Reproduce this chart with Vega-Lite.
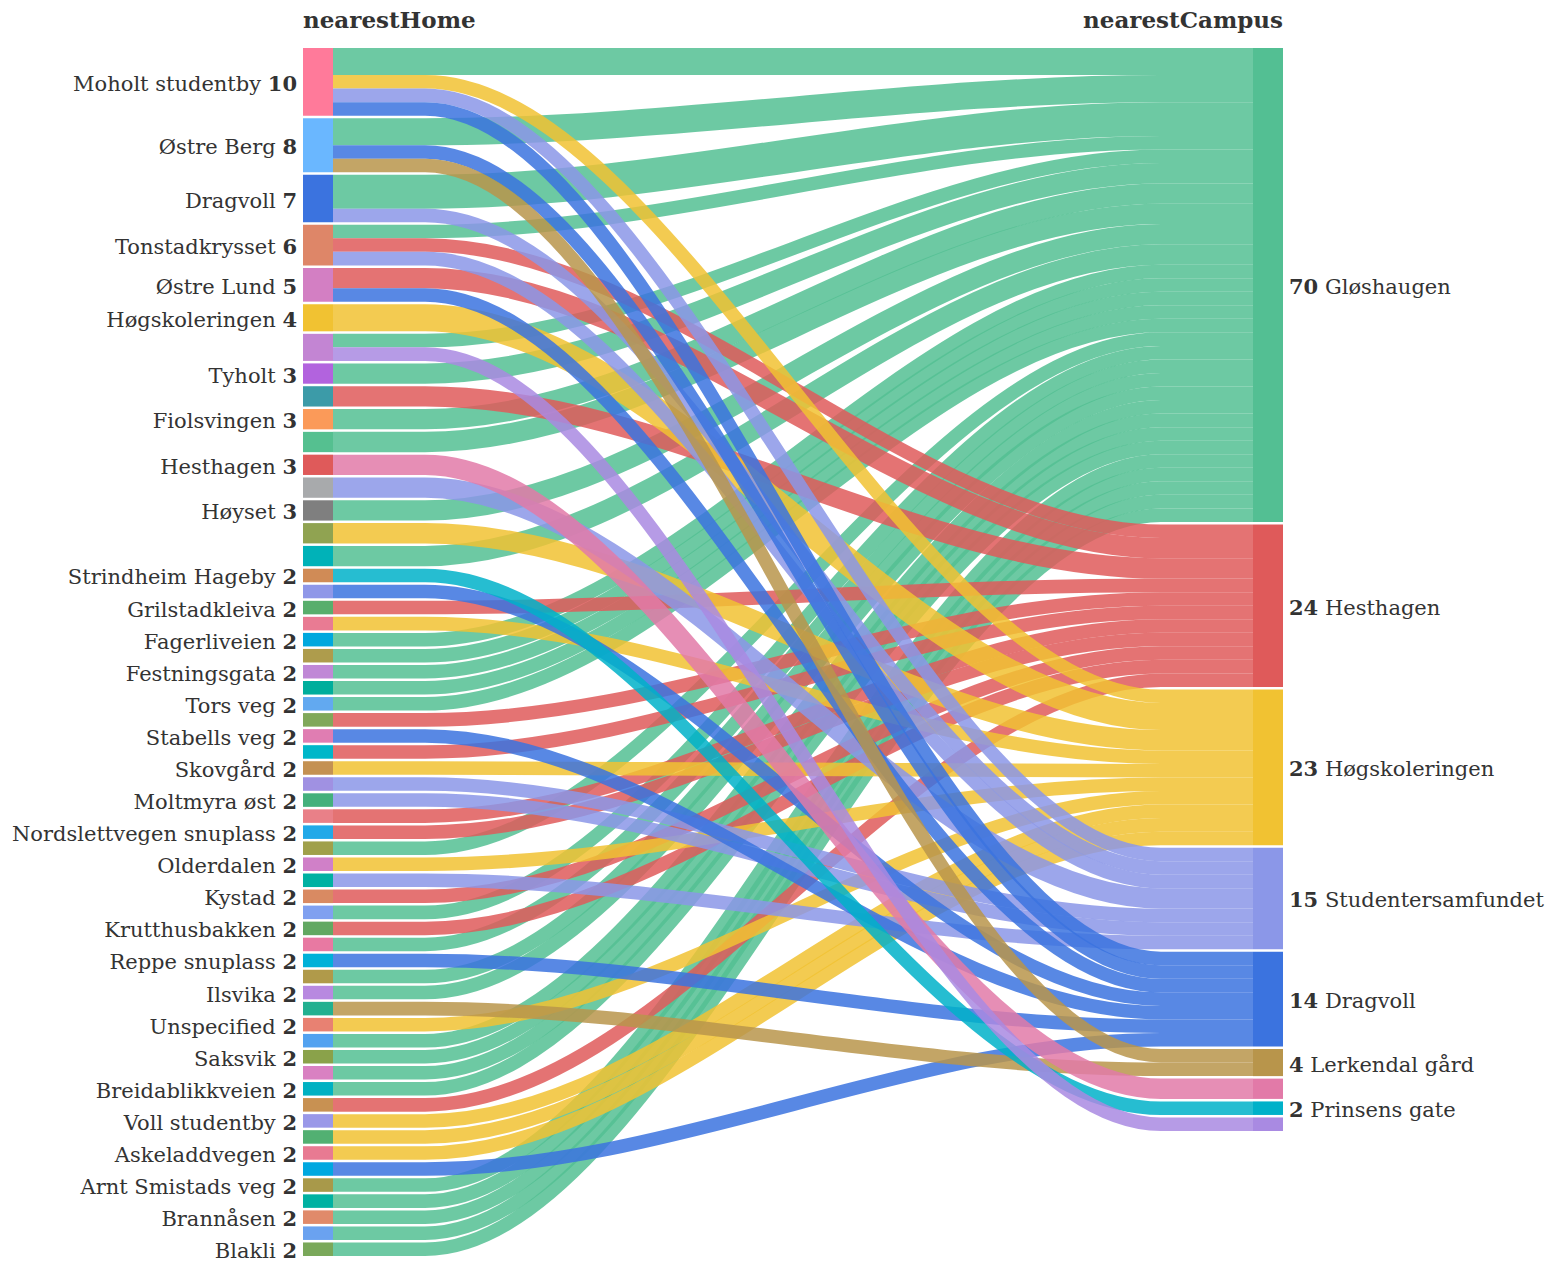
{
  "$schema": "https://vega.github.io/schema/vega-lite/v6.json",
  "width": 980,
  "height": 1208,
  "autosize": {"type": "none"},
  "padding": {"left": 303, "top": 48, "right": 274, "bottom": 15},
  "background": "white",
  "config": {"view": {"stroke": null}, "text": {"font": "DejaVu Serif", "fontSize": 21, "color": "#333333"}},
  "datasets": {
    "links": [
      {"source": "h01", "target": "c1", "value": 4},
      {"source": "h02", "target": "c1", "value": 4},
      {"source": "h03", "target": "c1", "value": 5},
      {"source": "h04", "target": "c1", "value": 2},
      {"source": "h07", "target": "c1", "value": 2},
      {"source": "h08", "target": "c1", "value": 3},
      {"source": "h10", "target": "c1", "value": 3},
      {"source": "h11", "target": "c1", "value": 3},
      {"source": "h14", "target": "c1", "value": 3},
      {"source": "h16", "target": "c1", "value": 3},
      {"source": "h21", "target": "c1", "value": 2},
      {"source": "h22", "target": "c1", "value": 2},
      {"source": "h23", "target": "c1", "value": 2},
      {"source": "h24", "target": "c1", "value": 2},
      {"source": "h25", "target": "c1", "value": 2},
      {"source": "h34", "target": "c1", "value": 2},
      {"source": "h38", "target": "c1", "value": 2},
      {"source": "h40", "target": "c1", "value": 2},
      {"source": "h42", "target": "c1", "value": 2},
      {"source": "h43", "target": "c1", "value": 2},
      {"source": "h46", "target": "c1", "value": 2},
      {"source": "h47", "target": "c1", "value": 2},
      {"source": "h48", "target": "c1", "value": 2},
      {"source": "h49", "target": "c1", "value": 2},
      {"source": "h55", "target": "c1", "value": 2},
      {"source": "h56", "target": "c1", "value": 2},
      {"source": "h57", "target": "c1", "value": 2},
      {"source": "h58", "target": "c1", "value": 2},
      {"source": "h59", "target": "c1", "value": 2},
      {"source": "h04", "target": "c2", "value": 2},
      {"source": "h05", "target": "c2", "value": 3},
      {"source": "h09", "target": "c2", "value": 3},
      {"source": "h19", "target": "c2", "value": 2},
      {"source": "h26", "target": "c2", "value": 2},
      {"source": "h28", "target": "c2", "value": 2},
      {"source": "h32", "target": "c2", "value": 2},
      {"source": "h33", "target": "c2", "value": 2},
      {"source": "h37", "target": "c2", "value": 2},
      {"source": "h39", "target": "c2", "value": 2},
      {"source": "h50", "target": "c2", "value": 2},
      {"source": "h01", "target": "c3", "value": 2},
      {"source": "h06", "target": "c3", "value": 4},
      {"source": "h15", "target": "c3", "value": 3},
      {"source": "h20", "target": "c3", "value": 2},
      {"source": "h29", "target": "c3", "value": 2},
      {"source": "h35", "target": "c3", "value": 2},
      {"source": "h45", "target": "c3", "value": 2},
      {"source": "h51", "target": "c3", "value": 2},
      {"source": "h52", "target": "c3", "value": 2},
      {"source": "h53", "target": "c3", "value": 2},
      {"source": "h01", "target": "c4", "value": 2},
      {"source": "h03", "target": "c4", "value": 2},
      {"source": "h04", "target": "c4", "value": 2},
      {"source": "h13", "target": "c4", "value": 3},
      {"source": "h30", "target": "c4", "value": 2},
      {"source": "h31", "target": "c4", "value": 2},
      {"source": "h36", "target": "c4", "value": 2},
      {"source": "h01", "target": "c5", "value": 2},
      {"source": "h02", "target": "c5", "value": 2},
      {"source": "h05", "target": "c5", "value": 2},
      {"source": "h18", "target": "c5", "value": 2},
      {"source": "h27", "target": "c5", "value": 2},
      {"source": "h41", "target": "c5", "value": 2},
      {"source": "h54", "target": "c5", "value": 2},
      {"source": "h02", "target": "c6", "value": 2},
      {"source": "h44", "target": "c6", "value": 2},
      {"source": "h12", "target": "c7", "value": 3},
      {"source": "h17", "target": "c8", "value": 2},
      {"source": "h07", "target": "c9", "value": 2}
    ],
    "names": [
      {"id": "h01", "name": "Moholt studentby"},
      {"id": "h02", "name": "Østre Berg"},
      {"id": "h03", "name": "Dragvoll"},
      {"id": "h04", "name": "Tonstadkrysset"},
      {"id": "h05", "name": "Østre Lund"},
      {"id": "h06", "name": "Høgskoleringen"},
      {"id": "h08", "name": "Tyholt"},
      {"id": "h10", "name": "Fiolsvingen"},
      {"id": "h12", "name": "Hesthagen"},
      {"id": "h14", "name": "Høyset"},
      {"id": "h17", "name": "Strindheim Hageby"},
      {"id": "h19", "name": "Grilstadkleiva"},
      {"id": "h21", "name": "Fagerliveien"},
      {"id": "h23", "name": "Festningsgata"},
      {"id": "h25", "name": "Tors veg"},
      {"id": "h27", "name": "Stabells veg"},
      {"id": "h29", "name": "Skovgård"},
      {"id": "h31", "name": "Moltmyra øst"},
      {"id": "h33", "name": "Nordslettvegen snuplass"},
      {"id": "h35", "name": "Olderdalen"},
      {"id": "h37", "name": "Kystad"},
      {"id": "h39", "name": "Krutthusbakken"},
      {"id": "h41", "name": "Reppe snuplass"},
      {"id": "h43", "name": "Ilsvika"},
      {"id": "h45", "name": "Unspecified"},
      {"id": "h47", "name": "Saksvik"},
      {"id": "h49", "name": "Breidablikkveien"},
      {"id": "h51", "name": "Voll studentby"},
      {"id": "h53", "name": "Askeladdvegen"},
      {"id": "h55", "name": "Arnt Smistads veg"},
      {"id": "h57", "name": "Brannåsen"},
      {"id": "h59", "name": "Blakli"},
      {"id": "c1", "name": "Gløshaugen"},
      {"id": "c2", "name": "Hesthagen"},
      {"id": "c3", "name": "Høgskoleringen"},
      {"id": "c4", "name": "Studentersamfundet"},
      {"id": "c5", "name": "Dragvoll"},
      {"id": "c6", "name": "Lerkendal gård"},
      {"id": "c8", "name": "Prinsens gate"}
    ]
  },
  "layer": [
    {
      "data": {"name": "links"},
      "transform": [
        {"window": [{"op": "dense_rank", "as": "sIdx"}], "sort": [{"field": "source"}]},
        {"window": [{"op": "dense_rank", "as": "tIdx"}], "sort": [{"field": "target"}]},
        {"window": [{"op": "sum", "field": "value", "as": "cumS"}], "sort": [{"field": "source"}, {"field": "target"}], "frame": [null, 0]},
        {"window": [{"op": "sum", "field": "value", "as": "cumT"}], "sort": [{"field": "target"}, {"field": "source"}], "frame": [null, 0]},
        {"calculate": "datum.cumS - datum.value + (datum.sIdx - 1) * 0.36924", "as": "sTop"},
        {"calculate": "datum.cumT - datum.value + (datum.tIdx - 1) * 0.36924", "as": "tTop"}
      ],
      "encoding": {
        "color": {
          "field": "cid",
          "type": "nominal",
          "legend": null,
          "scale": {
            "domain": ["h01","h02","h03","h04","h05","h06","h07","h08","h09","h10","h11","h12","h13","h14","h15","h16","h17","h18","h19","h20","h21","h22","h23","h24","h25","h26","h27","h28","h29","h30","h31","h32","h33","h34","h35","h36","h37","h38","h39","h40","h41","h42","h43","h44","h45","h46","h47","h48","h49","h50","h51","h52","h53","h54","h55","h56","h57","h58","h59","c1","c2","c3","c4","c5","c6","c7","c8","c9"],
            "range": ["#ff7a9a","#6ab7ff","#3b73df","#de8668","#d37fc3","#f1c232","#c385d3","#b263de","#3c9ba8","#fb9a59","#55c090","#df5a5a","#a8aaac","#7f7f7f","#90a351","#00b2b8","#d08b56","#8f97e8","#58ae6c","#e97b93","#00a8de","#ae9c4c","#c088d6","#00ae9c","#62a9f0","#80a85a","#e07db2","#00b7c9","#c49152","#a091e2","#44b07c","#e98088","#22a9e8","#a0a04a","#d080c8","#00b1a2","#d98a62","#80a0f0","#62a862","#e879a2","#00b1d8","#b09a4a","#b889e0","#22b090","#e88172","#52a2f0","#8aa24a","#d981c2","#00b1c2","#c89152","#9a98e8","#52b072","#e87a92","#00a8e0","#a8994a","#00b1a2","#e08a6a","#6aa2f0","#7aa85a","#53bf93","#df5a5a","#f1c232","#8b97e8","#3b73df","#b8954b","#e27aa8","#00b1c9","#a98ae2"]
          }
        }
      },
      "layer": [
        {
          "transform": [
            {"calculate": "datum.target", "as": "cid"},
            {"calculate": "datum.sTop + datum.value / 2", "as": "ys"},
            {"calculate": "datum.ys", "as": "ya"},
            {"calculate": "datum.tTop + datum.value / 2", "as": "yt"},
            {"calculate": "datum.yt", "as": "yb"},
            {"calculate": "datum.source + '-' + datum.target", "as": "link"},
            {"fold": ["ys", "ya", "yb", "yt"], "as": ["pt", "yc"]},
            {"calculate": "datum.pt == 'ys' ? 0.0306122 : datum.pt == 'ya' ? 0.1244898 : datum.pt == 'yb' ? 0.8755102 : 0.9693878", "as": "px"}
          ],
          "mark": {"type": "line", "interpolate": "monotone", "strokeOpacity": 0.85, "strokeCap": "butt"},
          "encoding": {
            "x": {"field": "px", "type": "quantitative", "scale": {"domain": [0, 1], "nice": false, "zero": false}, "axis": null},
            "y": {"field": "yc", "type": "quantitative", "scale": {"domain": [0, 178.416], "reverse": true, "nice": false, "zero": false}, "axis": null},
            "detail": {"field": "link"},
            "order": {"field": "px"},
            "strokeWidth": {"field": "value", "type": "quantitative", "scale": {"domain": [0, 10], "range": [0, 67.707]}, "legend": null}
          }
        },
        {
          "transform": [
            {"calculate": "datum.sTop + datum.value", "as": "sBot"},
            {"aggregate": [{"op": "min", "field": "sTop", "as": "y0"}, {"op": "max", "field": "sBot", "as": "y1"}, {"op": "sum", "field": "value", "as": "total"}], "groupby": ["source"]},
            {"calculate": "datum.source", "as": "cid"},
            {"calculate": "(datum.y0 + datum.y1) / 2", "as": "ym"},
            {"lookup": "source", "from": {"data": {"name": "names"}, "key": "id", "fields": ["name"]}}
          ],
          "layer": [
            {
              "mark": {"type": "rect"},
              "encoding": {
                "x": {"datum": 0, "type": "quantitative", "scale": {"domain": [0, 1], "nice": false, "zero": false}, "axis": null},
                "x2": {"datum": 0.0306122},
                "y": {"field": "y0", "type": "quantitative", "scale": {"domain": [0, 178.416], "reverse": true, "nice": false, "zero": false}, "axis": null},
                "y2": {"field": "y1"}
              }
            },
            {
              "transform": [{"filter": "datum.name != null"}],
              "mark": {"type": "text", "align": "right", "baseline": "middle", "dx": -6, "dy": 3, "fontWeight": "bold"},
              "encoding": {
                "x": {"datum": 0, "type": "quantitative", "scale": {"domain": [0, 1], "nice": false, "zero": false}, "axis": null},
                "y": {"field": "ym", "type": "quantitative", "scale": {"domain": [0, 178.416], "reverse": true, "nice": false, "zero": false}, "axis": null},
                "text": {"field": "total"},
                "color": {"value": "#333333"}
              }
            },
            {
              "transform": [{"filter": "datum.name != null && datum.total < 10"}],
              "mark": {"type": "text", "align": "right", "baseline": "middle", "dx": -27.3, "dy": 3},
              "encoding": {
                "x": {"datum": 0, "type": "quantitative", "scale": {"domain": [0, 1], "nice": false, "zero": false}, "axis": null},
                "y": {"field": "ym", "type": "quantitative", "scale": {"domain": [0, 178.416], "reverse": true, "nice": false, "zero": false}, "axis": null},
                "text": {"field": "name"},
                "color": {"value": "#333333"}
              }
            },
            {
              "transform": [{"filter": "datum.name != null && datum.total >= 10"}],
              "mark": {"type": "text", "align": "right", "baseline": "middle", "dx": -41.9, "dy": 3},
              "encoding": {
                "x": {"datum": 0, "type": "quantitative", "scale": {"domain": [0, 1], "nice": false, "zero": false}, "axis": null},
                "y": {"field": "ym", "type": "quantitative", "scale": {"domain": [0, 178.416], "reverse": true, "nice": false, "zero": false}, "axis": null},
                "text": {"field": "name"},
                "color": {"value": "#333333"}
              }
            }
          ]
        },
        {
          "transform": [
            {"calculate": "datum.tTop + datum.value", "as": "tBot"},
            {"aggregate": [{"op": "min", "field": "tTop", "as": "y0"}, {"op": "max", "field": "tBot", "as": "y1"}, {"op": "sum", "field": "value", "as": "total"}], "groupby": ["target"]},
            {"calculate": "datum.target", "as": "cid"},
            {"calculate": "(datum.y0 + datum.y1) / 2", "as": "ym"},
            {"lookup": "target", "from": {"data": {"name": "names"}, "key": "id", "fields": ["name"]}}
          ],
          "layer": [
            {
              "mark": {"type": "rect"},
              "encoding": {
                "x": {"datum": 0.9693878, "type": "quantitative", "scale": {"domain": [0, 1], "nice": false, "zero": false}, "axis": null},
                "x2": {"datum": 1},
                "y": {"field": "y0", "type": "quantitative", "scale": {"domain": [0, 178.416], "reverse": true, "nice": false, "zero": false}, "axis": null},
                "y2": {"field": "y1"}
              }
            },
            {
              "transform": [{"filter": "datum.name != null"}],
              "mark": {"type": "text", "align": "left", "baseline": "middle", "dx": 6, "dy": 3, "fontWeight": "bold"},
              "encoding": {
                "x": {"datum": 1, "type": "quantitative", "scale": {"domain": [0, 1], "nice": false, "zero": false}, "axis": null},
                "y": {"field": "ym", "type": "quantitative", "scale": {"domain": [0, 178.416], "reverse": true, "nice": false, "zero": false}, "axis": null},
                "text": {"field": "total"},
                "color": {"value": "#333333"}
              }
            },
            {
              "transform": [{"filter": "datum.name != null && datum.total >= 10"}],
              "mark": {"type": "text", "align": "left", "baseline": "middle", "dx": 41.9, "dy": 3},
              "encoding": {
                "x": {"datum": 1, "type": "quantitative", "scale": {"domain": [0, 1], "nice": false, "zero": false}, "axis": null},
                "y": {"field": "ym", "type": "quantitative", "scale": {"domain": [0, 178.416], "reverse": true, "nice": false, "zero": false}, "axis": null},
                "text": {"field": "name"},
                "color": {"value": "#333333"}
              }
            },
            {
              "transform": [{"filter": "datum.name != null && datum.total < 10"}],
              "mark": {"type": "text", "align": "left", "baseline": "middle", "dx": 27.3, "dy": 3},
              "encoding": {
                "x": {"datum": 1, "type": "quantitative", "scale": {"domain": [0, 1], "nice": false, "zero": false}, "axis": null},
                "y": {"field": "ym", "type": "quantitative", "scale": {"domain": [0, 178.416], "reverse": true, "nice": false, "zero": false}, "axis": null},
                "text": {"field": "name"},
                "color": {"value": "#333333"}
              }
            }
          ]
        }
      ]
    },
    {
      "data": {"values": [{"header": "nearestHome"}]},
      "mark": {"type": "text", "align": "left", "baseline": "alphabetic", "fontWeight": "bold", "fontSize": 23},
      "encoding": {
        "x": {"datum": 0, "type": "quantitative", "scale": {"domain": [0, 1], "nice": false, "zero": false}, "axis": null},
        "y": {"value": -20},
        "text": {"field": "header"},
        "color": {"value": "#333333"}
      }
    },
    {
      "data": {"values": [{"header": "nearestCampus"}]},
      "mark": {"type": "text", "align": "right", "baseline": "alphabetic", "fontWeight": "bold", "fontSize": 23},
      "encoding": {
        "x": {"datum": 1, "type": "quantitative", "scale": {"domain": [0, 1], "nice": false, "zero": false}, "axis": null},
        "y": {"value": -20},
        "text": {"field": "header"},
        "color": {"value": "#333333"}
      }
    }
  ]
}
